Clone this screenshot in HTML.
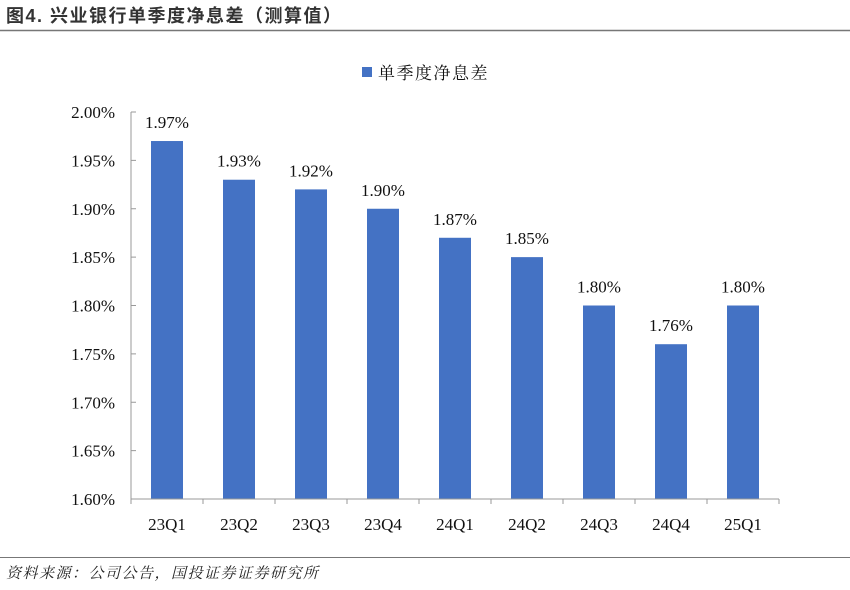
<!DOCTYPE html>
<html><head><meta charset="utf-8"><style>
body{margin:0;background:#fff;width:850px;height:585px;overflow:hidden;font-family:"Liberation Serif","Noto Serif CJK SC",serif}
</style></head><body>
<svg width="850" height="585">
<text x="6" y="22" font-size="18" font-weight="bold" letter-spacing="1.5" fill="#333" font-family="'Liberation Sans','Noto Sans CJK SC',sans-serif">图4. 兴业银行单季度净息差（测算值）</text>
<line x1="0" y1="30.5" x2="850" y2="30.5" stroke="#777" stroke-width="1.5"/>
<g>
<rect x="362" y="67" width="10" height="10" fill="#4472C4"/>
<text x="378" y="79" font-size="17" letter-spacing="1.5" fill="#111" font-family="'Noto Serif CJK SC',serif">单季度净息差</text>
</g>
<g id="plot"></g>
<line x1="0" y1="557.5" x2="850" y2="557.5" stroke="#777" stroke-width="1"/>
<text x="6" y="578" font-size="15" letter-spacing="1.5" font-style="italic" fill="#222" font-family="'Noto Serif CJK SC',serif">资料来源：公司公告，国投证券证券研究所</text>
</svg>
<script>
const categories=["23Q1","23Q2","23Q3","23Q4","24Q1","24Q2","24Q3","24Q4","25Q1"];
const values=[1.97,1.93,1.92,1.90,1.87,1.85,1.80,1.76,1.80];
const yTicks=[1.60,1.65,1.70,1.75,1.80,1.85,1.90,1.95,2.00];
const NS="http://www.w3.org/2000/svg";
const g=document.getElementById('plot');
const x0=131,x1=779,yB=499,yT=112,vmin=1.60,vmax=2.00;
const step=(x1-x0)/categories.length,bw=32;
const y=v=>yB-(v-vmin)/(vmax-vmin)*(yB-yT);
function mk(t,a){const e=document.createElementNS(NS,t);for(const k in a)e.setAttribute(k,a[k]);g.appendChild(e);return e;}
yTicks.forEach(v=>{
 const t=mk('text',{x:x0-16,y:y(v)+6,'text-anchor':'end','font-size':'17',fill:'#111'});
 t.textContent=v.toFixed(2)+'%';
 
 
 const l=mk('line',{x1:x0,x2:x0+5,y1:y(v),y2:y(v),stroke:'#999'});
 
 
});
categories.forEach((c,i)=>{
 const cx=x0+step*(i+0.5),v=values[i];
 const r=mk('rect',{x:cx-bw/2,y:y(v),width:bw,height:yB-y(v),fill:'#4472C4'});
 
 
 const lb=mk('text',{x:cx,y:y(v)-13,'text-anchor':'middle','font-size':'17',fill:'#111'});
 lb.textContent=v.toFixed(2)+'%';
 
 
 const xl=mk('text',{x:cx,y:yB+31,'text-anchor':'middle','font-size':'17',fill:'#111'});
 xl.textContent=c;
 
 
});
for(let i=0;i<=categories.length;i++){
 const tx=x0+step*i;
 const t=mk('line',{x1:tx,x2:tx,y1:yB,y2:yB+5,stroke:'#999'});
 
 
}
const ax=mk('line',{x1:x0,x2:x0,y1:yT,y2:yB,stroke:'#999'});


const bx=mk('line',{x1:x0,x2:x1,y1:yB,y2:yB,stroke:'#999'});


</script>
</body></html>
